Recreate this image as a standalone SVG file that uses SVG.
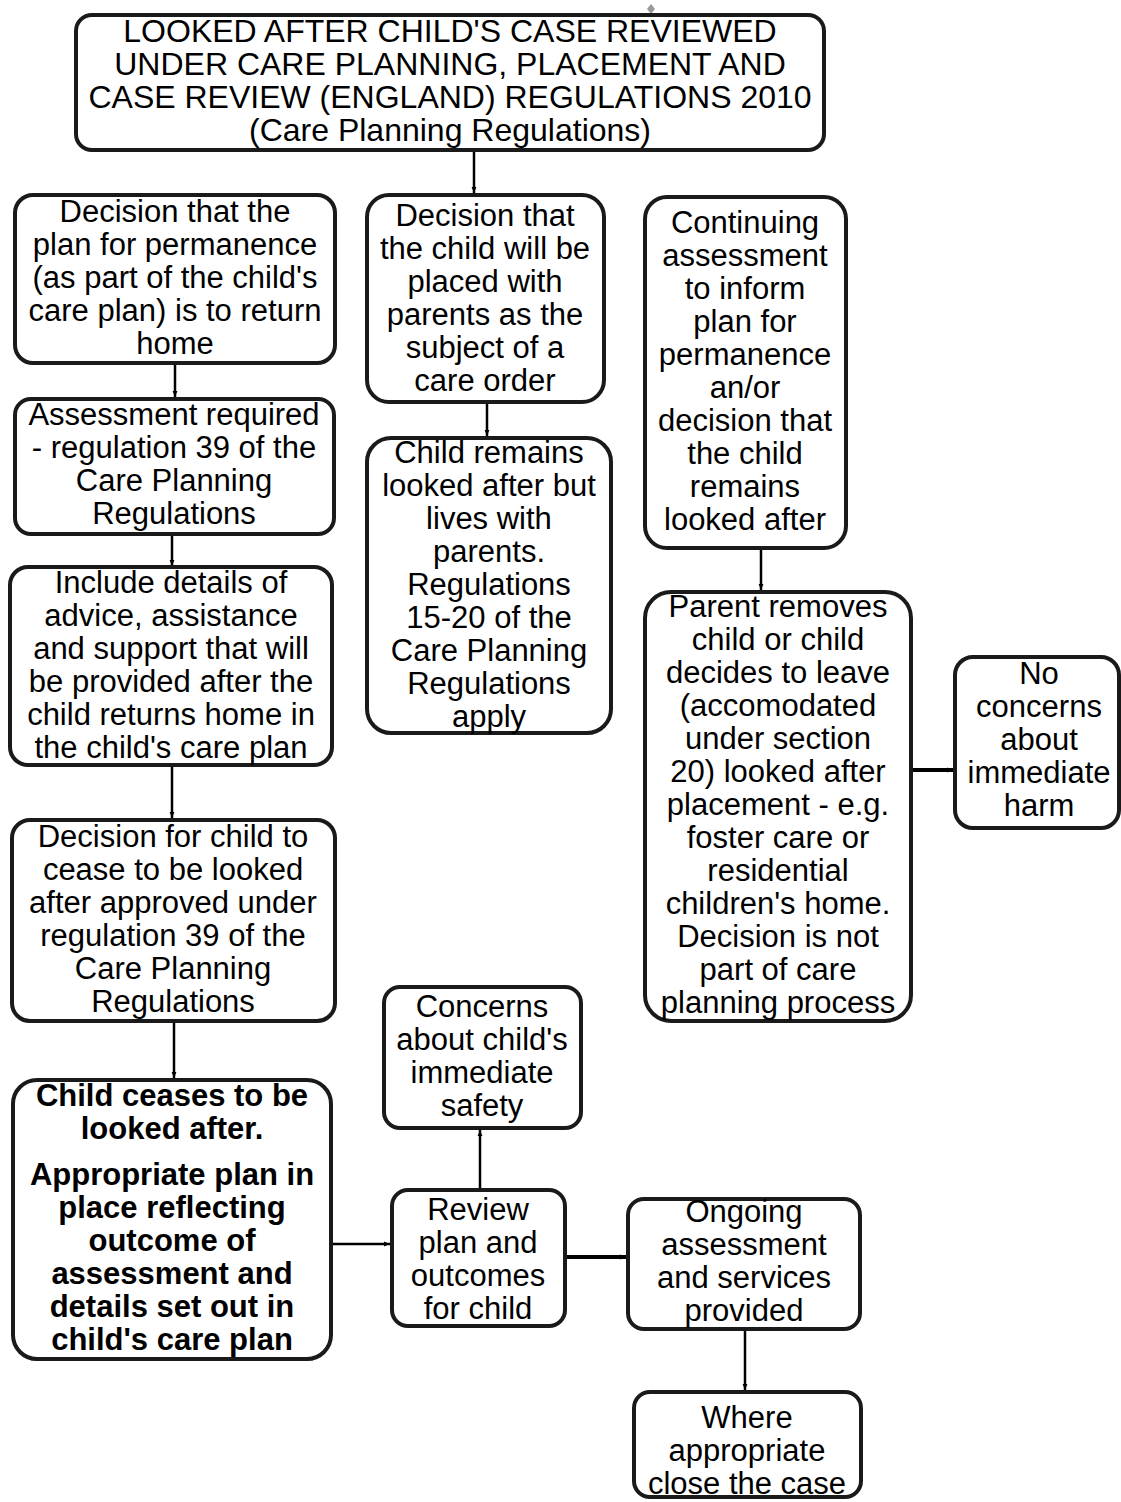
<svg xmlns="http://www.w3.org/2000/svg" width="1121" height="1502" viewBox="0 0 1121 1502">
<style>
  .box { fill: #ffffff; stroke: #1a1a1a; stroke-width: 4; }
  .t { font-family: "Liberation Sans", Arial, sans-serif; font-size: 31px; fill: #000; text-anchor: middle; }
  .tt { font-family: "Liberation Sans", Arial, sans-serif; font-size: 32px; fill: #000; text-anchor: middle; }
  .b { font-family: "Liberation Sans", Arial, sans-serif; font-size: 31px; font-weight: bold; fill: #000; text-anchor: middle; }
  .c { stroke: #000; stroke-width: 2.5; fill: none; marker-end: url(#ah); }
  .ck { stroke: #000; stroke-width: 4; fill: none; marker-end: url(#ah); }
</style>
<defs>
  <marker id="ah" viewBox="0 0 10 10" refX="10" refY="5" markerWidth="6" markerHeight="6" markerUnits="userSpaceOnUse" orient="auto">
    <path d="M0,1 L10,5 L0,9 z" fill="#000"/>
  </marker>
</defs>
<rect width="1121" height="1502" fill="#ffffff"/>
<polygon points="651,4 655,9 651,14 647,9" fill="#999999"/>

<g id="connectors">
  <line class="c" x1="474" y1="152" x2="474" y2="193"/>
  <line class="c" x1="175" y1="364" x2="175" y2="397"/>
  <line class="c" x1="172" y1="535" x2="172" y2="566"/>
  <line class="c" x1="172" y1="767" x2="172" y2="818"/>
  <line class="c" x1="174" y1="1023" x2="174" y2="1078"/>
  <line class="c" x1="487" y1="404" x2="487" y2="436"/>
  <line class="c" x1="761" y1="550" x2="761" y2="590"/>
  <line class="ck" x1="913" y1="770" x2="953" y2="770"/>
  <line class="c" x1="333" y1="1244" x2="390" y2="1244"/>
  <line class="c" x1="480" y1="1188" x2="480" y2="1130"/>
  <line class="ck" x1="567" y1="1257" x2="626" y2="1257"/>
  <line class="c" x1="745" y1="1331" x2="745" y2="1390"/>
</g>

<g id="top">
  <rect class="box" x="76" y="15" width="748" height="135" rx="16"/>
  <text class="tt" x="450" y="42">LOOKED AFTER CHILD'S CASE REVIEWED</text>
  <text class="tt" x="450" y="75">UNDER CARE PLANNING, PLACEMENT AND</text>
  <text class="tt" x="450" y="108">CASE REVIEW (ENGLAND) REGULATIONS 2010</text>
  <text class="tt" x="450" y="141">(Care Planning Regulations)</text>
</g>

<g id="return-home">
  <rect class="box" x="15" y="195" width="320" height="168" rx="18"/>
  <text class="t" x="175" y="222">Decision that the</text>
  <text class="t" x="175" y="255">plan for permanence</text>
  <text class="t" x="175" y="288">(as part of the child's</text>
  <text class="t" x="175" y="321">care plan) is to return</text>
  <text class="t" x="175" y="354">home</text>
</g>

<g id="assessment-required">
  <rect class="box" x="15" y="399" width="319" height="135" rx="16"/>
  <text class="t" x="174" y="425">Assessment required</text>
  <text class="t" x="174" y="458">- regulation 39 of the</text>
  <text class="t" x="174" y="491">Care Planning</text>
  <text class="t" x="174" y="524">Regulations</text>
</g>

<g id="include-details">
  <rect class="box" x="10" y="567" width="322" height="198" rx="18"/>
  <text class="t" x="171" y="593">Include details of</text>
  <text class="t" x="171" y="626">advice, assistance</text>
  <text class="t" x="171" y="659">and support that will</text>
  <text class="t" x="171" y="692">be provided after the</text>
  <text class="t" x="171" y="725">child returns home in</text>
  <text class="t" x="171" y="758">the child's care plan</text>
</g>

<g id="decision-cease">
  <rect class="box" x="12" y="820" width="323" height="201" rx="18"/>
  <text class="t" x="173" y="847">Decision for child to</text>
  <text class="t" x="173" y="880">cease to be looked</text>
  <text class="t" x="173" y="913">after approved under</text>
  <text class="t" x="173" y="946">regulation 39 of the</text>
  <text class="t" x="173" y="979">Care Planning</text>
  <text class="t" x="173" y="1012">Regulations</text>
</g>

<g id="ceases">
  <rect class="box" x="13" y="1080" width="318" height="279" rx="24"/>
  <text class="b" x="172" y="1106">Child ceases to be</text>
  <text class="b" x="172" y="1139">looked after.</text>
  <text class="b" x="172" y="1185">Appropriate plan in</text>
  <text class="b" x="172" y="1218">place reflecting</text>
  <text class="b" x="172" y="1251">outcome of</text>
  <text class="b" x="172" y="1284">assessment and</text>
  <text class="b" x="172" y="1317">details set out in</text>
  <text class="b" x="172" y="1350">child's care plan</text>
</g>

<g id="placed-with-parents">
  <rect class="box" x="367" y="195" width="237" height="207" rx="22"/>
  <text class="t" x="485" y="226">Decision that</text>
  <text class="t" x="485" y="259">the child will be</text>
  <text class="t" x="485" y="292">placed with</text>
  <text class="t" x="485" y="325">parents as the</text>
  <text class="t" x="485" y="358">subject of a</text>
  <text class="t" x="485" y="391">care order</text>
</g>

<g id="remains-looked-after">
  <rect class="box" x="367" y="438" width="244" height="295" rx="24"/>
  <text class="t" x="489" y="463">Child remains</text>
  <text class="t" x="489" y="496">looked after but</text>
  <text class="t" x="489" y="529">lives with</text>
  <text class="t" x="489" y="562">parents.</text>
  <text class="t" x="489" y="595">Regulations</text>
  <text class="t" x="489" y="628">15-20 of the</text>
  <text class="t" x="489" y="661">Care Planning</text>
  <text class="t" x="489" y="694">Regulations</text>
  <text class="t" x="489" y="727">apply</text>
</g>

<g id="continuing-assessment">
  <rect class="box" x="645" y="197" width="201" height="351" rx="22"/>
  <text class="t" x="745" y="233">Continuing</text>
  <text class="t" x="745" y="266">assessment</text>
  <text class="t" x="745" y="299">to inform</text>
  <text class="t" x="745" y="332">plan for</text>
  <text class="t" x="745" y="365">permanence</text>
  <text class="t" x="745" y="398">an/or</text>
  <text class="t" x="745" y="431">decision that</text>
  <text class="t" x="745" y="464">the child</text>
  <text class="t" x="745" y="497">remains</text>
  <text class="t" x="745" y="530">looked after</text>
</g>

<g id="parent-removes">
  <rect class="box" x="645" y="592" width="266" height="429" rx="26"/>
  <text class="t" x="778" y="617">Parent removes</text>
  <text class="t" x="778" y="650">child or child</text>
  <text class="t" x="778" y="683">decides to leave</text>
  <text class="t" x="778" y="716">(accomodated</text>
  <text class="t" x="778" y="749">under section</text>
  <text class="t" x="778" y="782">20) looked after</text>
  <text class="t" x="778" y="815">placement - e.g.</text>
  <text class="t" x="778" y="848">foster care or</text>
  <text class="t" x="778" y="881">residential</text>
  <text class="t" x="778" y="914">children's home.</text>
  <text class="t" x="778" y="947">Decision is not</text>
  <text class="t" x="778" y="980">part of care</text>
  <text class="t" x="778" y="1013">planning process</text>
</g>

<g id="no-concerns">
  <rect class="box" x="955" y="657" width="164" height="171" rx="18"/>
  <text class="t" x="1039" y="684">No</text>
  <text class="t" x="1039" y="717">concerns</text>
  <text class="t" x="1039" y="750">about</text>
  <text class="t" x="1039" y="783">immediate</text>
  <text class="t" x="1039" y="816">harm</text>
</g>

<g id="concerns-safety">
  <rect class="box" x="384" y="987" width="197" height="141" rx="16"/>
  <text class="t" x="482" y="1017">Concerns</text>
  <text class="t" x="482" y="1050">about child's</text>
  <text class="t" x="482" y="1083">immediate</text>
  <text class="t" x="482" y="1116">safety</text>
</g>

<g id="review-plan">
  <rect class="box" x="392" y="1190" width="173" height="136" rx="16"/>
  <text class="t" x="478" y="1220">Review</text>
  <text class="t" x="478" y="1253">plan and</text>
  <text class="t" x="478" y="1286">outcomes</text>
  <text class="t" x="478" y="1319">for child</text>
</g>

<g id="ongoing-assessment">
  <rect class="box" x="628" y="1199" width="232" height="130" rx="16"/>
  <text class="t" x="744" y="1222">Ongoing</text>
  <text class="t" x="744" y="1255">assessment</text>
  <text class="t" x="744" y="1288">and services</text>
  <text class="t" x="744" y="1321">provided</text>
</g>

<g id="close-case">
  <rect class="box" x="634" y="1392" width="227" height="105" rx="16"/>
  <text class="t" x="747" y="1428">Where</text>
  <text class="t" x="747" y="1461">appropriate</text>
  <text class="t" x="747" y="1494">close the case</text>
</g>
</svg>
